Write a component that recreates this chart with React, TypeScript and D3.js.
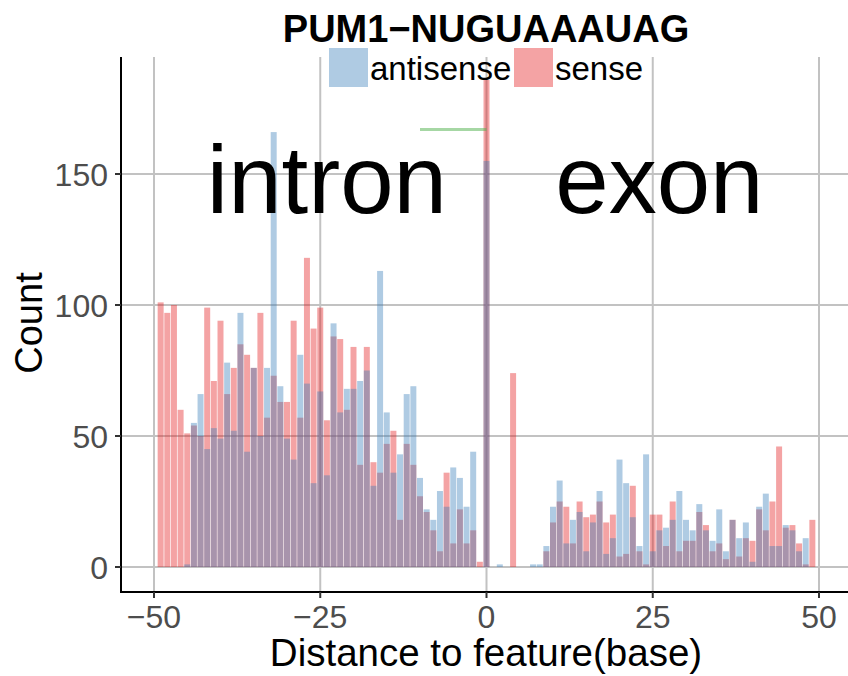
import React from "react";
import * as d3 from "d3";

const positions: number[] = d3.range(-50, 51);

const senseCounts: number[] = [
  0, 101, 97, 100, 60, 51, 54, 50, 99, 71, 94, 66, 76, 85, 81, 76, 97, 57, 73, 63,
  63, 94, 57, 118, 91, 99, 56, 88, 87, 60, 84, 39, 84, 40, 36, 47, 52, 18, 47, 39,
  27, 21, 14, 6, 36, 9, 22, 9, 14, 2,
  186,
  0, 0, 0, 74, 0, 0, 0, 0, 6, 17, 25, 23, 9, 25, 19, 20, 25, 17, 20, 4,
  5, 31, 6, 1, 20, 20, 8, 25, 6, 10, 10, 21, 16, 6, 9, 3, 18, 4, 11, 10,
  22, 14, 25, 46, 15, 16, 9, 1, 18, 0,
];

const antisenseCounts: number[] = [
  0, 0, 0, 0, 0, 1, 55, 66, 45, 53, 49, 78, 52, 97, 44, 76, 50, 76, 166, 69,
  49, 41, 81, 70, 32, 67, 35, 93, 59, 68, 68, 71, 75, 31, 113, 59, 36, 43, 66, 69,
  34, 22, 18, 29, 23, 38, 34, 23, 44, 0,
  155,
  0, 1, 0, 0, 0, 0, 1, 1, 8, 23, 33, 9, 18, 21, 6, 17, 29, 5, 11, 41,
  32, 19, 8, 43, 6, 14, 15, 18, 29, 18, 14, 24, 14, 10, 22, 6, 18, 11, 17, 2,
  23, 28, 8, 8, 16, 14, 6, 11, 0, 0,
];

const xTicks: number[] = [-50, -25, 0, 25, 50];
const yTicks: number[] = [0, 50, 100, 150];
const seriesNames: string[] = ["antisense", "sense"];
const seriesColors: string[] = ["#377EB8", "#E41A1C"];
const regionLabels: string[] = ["intron", "exon"];
const regionX: number[] = [-24, 26];
const regionY = 135;
const markerSegment: number[] = [-10, 0, 167];
const title = "PUM1\u2212NUGUAAAUAG";
const xTitle = "Distance to feature(base)";
const yTitle = "Count";

const W = 848;
const H = 676;
const panel = { left: 121, right: 848, top: 57, bottom: 592 };
const FONT = "'Liberation Sans', Arial, Helvetica, sans-serif";

const fmt = (v: number) => (v < 0 ? "\u2212" + Math.abs(v) : String(v));

export default function App() {
  const x = d3.scaleLinear().domain([-50, 50]).range([154, 819]);
  const y = d3.scaleLinear().domain([0, 150]).range([567, 174]);
  const bw = x(0.9) - x(0);

  const barRects = (counts: number[], color: string, key: string) =>
    positions.map((p, i) =>
      counts[i] > 0 ? (
        <rect
          key={key + p}
          x={x(p) - bw / 2}
          y={y(counts[i])}
          width={bw}
          height={y(0) - y(counts[i])}
          fill={color}
          fillOpacity={0.4}
        />
      ) : null
    );

  return (
    <svg
      width={W}
      height={H}
      style={{ position: "absolute", left: 0, top: 0, background: "#fff" }}
      fontFamily={FONT}
    >
      <rect x={0} y={0} width={W} height={H} fill="#fff" />
      {/* grid */}
      {xTicks.map((t) => (
        <line key={"gx" + t} x1={x(t)} x2={x(t)} y1={panel.top} y2={panel.bottom} stroke="#c2c2c2" strokeWidth={2} />
      ))}
      {yTicks.map((t) => (
        <line key={"gy" + t} x1={panel.left} x2={panel.right} y1={y(t)} y2={y(t)} stroke="#c2c2c2" strokeWidth={2} />
      ))}
      {/* bars */}
      {barRects(senseCounts, seriesColors[1], "s")}
      {barRects(antisenseCounts, seriesColors[0], "a")}
      {/* marker segment */}
      <line
        x1={x(markerSegment[0])}
        x2={x(markerSegment[1])}
        y1={y(markerSegment[2])}
        y2={y(markerSegment[2])}
        stroke="#4DAF4A"
        strokeOpacity={0.5}
        strokeWidth={3}
      />
      {/* region labels */}
      {regionLabels.map((l, i) => (
        <text key={l} x={x(regionX[i])} y={y(regionY)} fontSize={96} textAnchor="middle" fill="#000">
          {l}
        </text>
      ))}
      {/* axes */}
      <line x1={panel.left} x2={panel.left} y1={panel.top} y2={panel.bottom + 1} stroke="#000" strokeWidth={2} />
      <line x1={panel.left - 1} x2={panel.right} y1={panel.bottom} y2={panel.bottom} stroke="#000" strokeWidth={2} />
      {yTicks.map((t) => (
        <g key={"ty" + t}>
          <line x1={panel.left - 6} x2={panel.left} y1={y(t)} y2={y(t)} stroke="#333" strokeWidth={2} />
          <text x={108} y={y(t)} dy="0.36em" textAnchor="end" fontSize={32} fill="#4d4d4d">
            {fmt(t)}
          </text>
        </g>
      ))}
      {xTicks.map((t) => (
        <g key={"tx" + t}>
          <line x1={x(t)} x2={x(t)} y1={panel.bottom} y2={panel.bottom + 6} stroke="#333" strokeWidth={2} />
          <text x={x(t)} y={628} textAnchor="middle" fontSize={32} fill="#4d4d4d">
            {fmt(t)}
          </text>
        </g>
      ))}
      {/* axis titles */}
      <text x={486} y={666} textAnchor="middle" fontSize={38.5} fill="#000">
        {xTitle}
      </text>
      <text transform={`translate(42, 323) rotate(-90)`} textAnchor="middle" fontSize={38} fill="#000">
        {yTitle}
      </text>
      {/* title */}
      <text x={486} y={42} textAnchor="middle" fontSize={38} fontWeight="bold" fill="#000">
        {title}
      </text>
      {/* legend */}
      {seriesNames.map((n, i) => {
        const kx = i === 0 ? 329 : 514;
        return (
          <g key={n}>
            <rect x={kx} y={48} width={39} height={39} fill={seriesColors[i]} fillOpacity={0.4} />
            <text x={kx + 41} y={80} fontSize={33} fill="#000">
              {n}
            </text>
          </g>
        );
      })}
    </svg>
  );
}
